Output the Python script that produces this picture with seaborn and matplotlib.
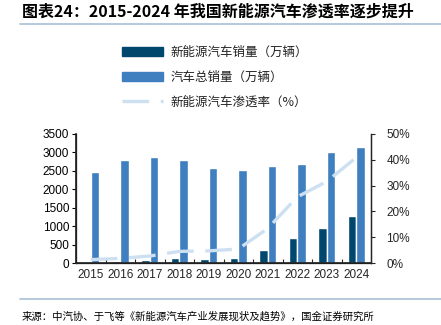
import numpy as np
import pandas as pd
import matplotlib
matplotlib.use("Agg")
import matplotlib.pyplot as plt
import seaborn as sns
from matplotlib.lines import Line2D
from matplotlib.ticker import FuncFormatter, MultipleLocator, FixedLocator

years = ["2015", "2016", "2017", "2018", "2019", "2020", "2021", "2022", "2023", "2024"]
nev_sales = [33, 51, 78, 126, 121, 137, 352, 689, 950, 1287]
total_sales = [2460, 2803, 2888, 2808, 2577, 2531, 2628, 2686, 3009, 3144]
penetration = [1.3, 1.8, 2.7, 4.5, 4.7, 5.4, 13.4, 25.6, 31.6, 40.9]

lab_nev = "新能源汽车销量（万辆）"
lab_total = "汽车总销量（万辆）"
lab_pen = "新能源汽车渗透率（%）"
title = "图表24：2015-2024 年我国新能源汽车渗透率逐步提升"
source = "来源：中汽协、于飞等《新能源汽车产业发展现状及趋势》，国金证券研究所"

sns.set_theme(style="ticks")
plt.rcParams["font.family"] = ["Liberation Sans", "Noto Sans CJK SC", "DejaVu Sans"]

c_dark = "#00476e"
c_light = "#3f7fbf"
c_line = "#cde0f2"

df = pd.DataFrame({
    "year": years * 2,
    "value": nev_sales + total_sales,
    "series": [lab_nev] * len(years) + [lab_total] * len(years),
})

fig = plt.figure(figsize=(4.41, 3.25), dpi=100)
ax = fig.add_axes([76 / 441, 1 - 263 / 325, (371 - 76) / 441, (263 - 134) / 325])
sns.barplot(data=df, x="year", y="value", hue="series", order=years,
            hue_order=[lab_nev, lab_total], palette=[c_dark, c_light],
            width=0.58, gap=0.05, ax=ax, legend=False, saturation=1)
ax.set_xlim(-0.5, len(years) - 0.5)
ax.set_ylim(0, 3500)
ax.yaxis.set_major_locator(MultipleLocator(500))
ax.set_xlabel("")
ax.set_ylabel("")
ax.tick_params(axis="y", direction="out", length=3, width=0.8, labelsize=8.5, pad=2, colors="black")
ax.tick_params(axis="x", which="major", length=0, labelsize=8.5, pad=4)
ax.xaxis.set_minor_locator(FixedLocator(np.arange(0.5, len(years) - 1, 1.0)))
ax.tick_params(axis="x", which="minor", direction="in", length=3, width=0.8)
for s in ["top"]:
    ax.spines[s].set_visible(False)
for s in ["left", "bottom", "right"]:
    ax.spines[s].set_linewidth(0.9)
    ax.spines[s].set_color("black")

ax2 = ax.twinx()
sns.lineplot(x=np.arange(len(years)), y=penetration, ax=ax2, color=c_line,
             linewidth=2.4, dashes=False)
ax2.lines[0].set_dashes((8, 3.5))
ax2.set_ylim(0, 50)
ax2.yaxis.set_major_locator(MultipleLocator(10))
ax2.yaxis.set_major_formatter(FuncFormatter(lambda v, p: f"{v:.0f}%"))
ax2.tick_params(axis="y", direction="out", length=3, width=0.8, labelsize=8.5, pad=8)
ax2.spines["top"].set_visible(False)
ax2.spines["right"].set_linewidth(0.9)
ax2.set_xlim(-0.5, len(years) - 0.5)

handles = [
    plt.Rectangle((0, 0), 1, 1, color=c_dark),
    plt.Rectangle((0, 0), 1, 1, color=c_light),
    Line2D([0], [0], color=c_line, linewidth=2.4, dashes=(8, 3.5)),
]
leg = fig.legend(handles, [lab_nev, lab_total, lab_pen], loc="upper left",
                 bbox_to_anchor=(122 / 441, 1 - 46 / 325), frameon=False,
                 prop={"family": ["Noto Sans CJK SC", "DejaVu Sans"], "size": 9},
                 handlelength=3.3, handletextpad=0.55, labelspacing=0.95,
                 borderaxespad=0, borderpad=0)
for t in leg.get_texts():
    t.set_color("#222222")

fig.text(22 / 441, 1 - 12 / 325, title, fontsize=11.5, fontweight="bold",
         family=["Noto Sans CJK SC", "DejaVu Sans"], va="center", ha="left", color="black")
fig.add_artist(Line2D([20 / 441, 1], [1 - 24 / 325] * 2, color="#a9bfd6", linewidth=1.2))
fig.add_artist(Line2D([20 / 441, 1], [1 - 299 / 325] * 2, color="#a9bfd6", linewidth=1.2))
fig.text(22 / 441, 1 - 316 / 325, source, fontsize=7.5,
         family=["Noto Sans CJK SC", "DejaVu Sans"], va="center", ha="left", color="black")

fig.savefig("out.png", dpi=100)
